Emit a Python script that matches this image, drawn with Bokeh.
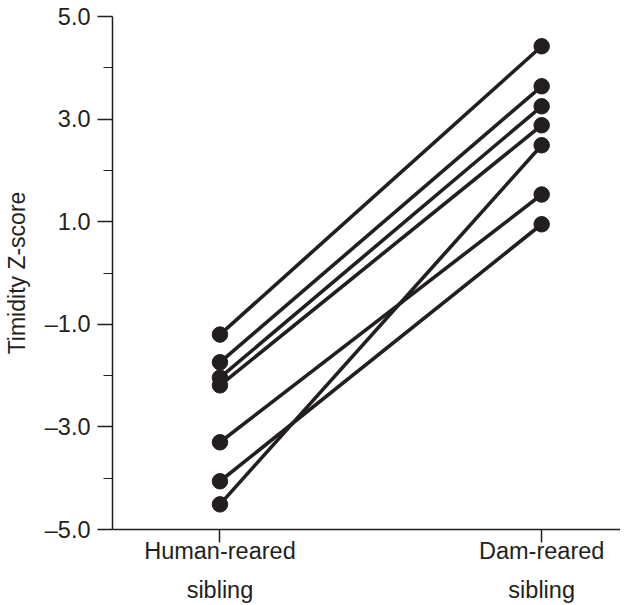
from bokeh.plotting import figure
from bokeh.models import FixedTicker, Range1d
from bokeh.embed import file_html
from bokeh.resources import INLINE

# Data
groups = ["Human-reared\nsibling", "Dam-reared\nsibling"]
human_reared = [-1.20, -1.74, -2.04, -2.19, -3.30, -4.06, -4.51]
dam_reared = [4.42, 3.64, 3.25, 2.88, 1.53, 0.95, 2.49]
y_ticks = [-5, -3, -1, 1, 3, 5]
y_minor = [-4, -2, 0, 2, 4]
y_tick_labels = ["\u20135.0", "\u20133.0", "\u20131.0", "1.0", "3.0", "5.0"]

ink = "#231f20"
font = "Liberation Sans"

p = figure(width=620, height=605, output_backend="svg", toolbar_location=None,
           x_range=Range1d(-0.334, 1.245), y_range=Range1d(-5, 5),
           min_border_left=110, min_border_top=16, min_border_right=0,
           min_border_bottom=60)
p.outline_line_color = None
p.grid.visible = False
p.background_fill_color = "white"

xs = [[0, 1] for _ in human_reared]
ys = [[h, d] for h, d in zip(human_reared, dam_reared)]
p.multi_line(xs=xs, ys=ys, line_color=ink, line_width=3.6)
p.scatter(x=[0] * len(human_reared), y=human_reared, size=15.5, color=ink)
p.scatter(x=[1] * len(dam_reared), y=dam_reared, size=15.5, color=ink)

# y axis
ya = p.yaxis[0]
ya.ticker = FixedTicker(ticks=y_ticks, minor_ticks=y_minor)
ya.major_label_overrides = {t: l for t, l in zip(y_ticks, y_tick_labels)}
ya.axis_label = "Timidity Z-score"
ya.axis_label_text_font = font
ya.axis_label_text_font_size = "23px"
ya.axis_label_text_font_style = "normal"
ya.axis_label_text_color = ink
ya.axis_label_standoff = 12
ya.major_label_text_font = font
ya.major_label_text_font_size = "23.5px"
ya.major_label_text_color = ink
ya.major_label_standoff = 7
ya.major_tick_out = 15
ya.major_tick_in = 0
ya.minor_tick_out = 9
ya.minor_tick_in = 0
ya.axis_line_color = ink
ya.axis_line_width = 1.5
ya.major_tick_line_color = ink
ya.major_tick_line_width = 1.5
ya.minor_tick_line_color = ink
ya.minor_tick_line_width = 1.2

# x axis
xa = p.xaxis[0]
xa.ticker = FixedTicker(ticks=[0, 1], minor_ticks=[])
xa.major_label_overrides = {i: g for i, g in enumerate(groups)}
xa.major_label_text_font = font
xa.major_label_text_font_size = "23.5px"
xa.major_label_text_color = ink
xa.major_label_text_line_height = 1.5
xa.major_label_standoff = -5
xa.major_tick_out = 13
xa.major_tick_in = 0
xa.minor_tick_line_color = None
xa.axis_line_color = ink
xa.axis_line_width = 1.5
xa.major_tick_line_color = ink
xa.major_tick_line_width = 1.5

open("out.html", "w").write(file_html(p, INLINE))
